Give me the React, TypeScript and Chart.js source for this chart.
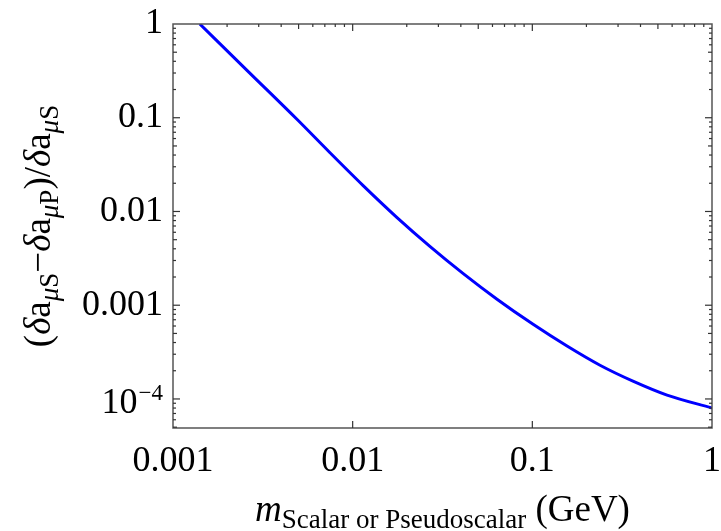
import React, { useEffect, useRef } from 'react';
import { Chart, registerables } from 'chart.js';

Chart.register(...registerables);

// ---- data ----
const massGeV = [0.00141, 0.00265, 0.00496, 0.00748, 0.0114, 0.0176, 0.0269, 0.0411, 0.0636, 0.101, 0.156, 0.238, 0.363, 0.562, 1.0];
const ratio = [1.0, 0.305, 0.0939, 0.0423, 0.019, 0.00867, 0.00425, 0.00219, 0.00116, 0.000626, 0.000367, 0.000229, 0.000155, 0.00011, 0.0000802];

const xTickValues = [0.001, 0.01, 0.1, 1];
const xTickLabels = ['0.001', '0.01', '0.1', '1'];
const yTickValues = [0.0001, 0.001, 0.01, 0.1, 1];
const yTickLabels = ['', '0.001', '0.01', '0.1', '1'];
const xMin = 0.001;
const xMax = 1;
const yMin = 4.9e-5;
const yMax = 1;

const SERIF = '"Liberation Serif", "DejaVu Serif", serif';
const TICK_FONT = 36;
const FRAME_COLOR = '#555555';

type Run = { text: string; size: number; italic?: boolean; dy?: number };

function font(r: Run) {
  return `${r.italic ? 'italic ' : ''}${r.size}px ${SERIF}`;
}

function runsWidth(ctx: CanvasRenderingContext2D, runs: Run[]) {
  let w = 0;
  for (const r of runs) {
    ctx.font = font(r);
    w += ctx.measureText(r.text).width;
  }
  return w;
}

function drawRuns(ctx: CanvasRenderingContext2D, runs: Run[], x: number, y: number) {
  let cx = x;
  for (const r of runs) {
    ctx.font = font(r);
    ctx.fillText(r.text, cx, y + (r.dy || 0));
    cx += ctx.measureText(r.text).width;
  }
}

const MAIN = 37;
const SUB = 27;
const yTitleRuns: Run[] = [
  { text: '(', size: MAIN },
  { text: 'δ', size: MAIN, italic: true },
  { text: 'a', size: MAIN },
  { text: 'μ', size: SUB, italic: true, dy: 8 },
  { text: 'S', size: SUB, dy: 8 },
  { text: '−', size: MAIN },
  { text: 'δ', size: MAIN, italic: true },
  { text: 'a', size: MAIN },
  { text: 'μ', size: SUB, italic: true, dy: 8 },
  { text: 'P', size: SUB, dy: 8 },
  { text: ')/', size: MAIN },
  { text: 'δ', size: MAIN, italic: true },
  { text: 'a', size: MAIN },
  { text: 'μ', size: SUB, italic: true, dy: 8 },
  { text: 'S', size: SUB, dy: 8 },
];
const xTitleRuns: Run[] = [
  { text: 'm', size: MAIN, italic: true },
  { text: 'Scalar or Pseudoscalar', size: SUB, dy: 7 },
  { text: ' (GeV)', size: MAIN },
];

const framePlugin = {
  id: 'frameTicks',
  afterDatasetsDraw(chart: any) {
    const { ctx, chartArea } = chart;
    const { left, right, top, bottom } = chartArea;
    const xs = chart.scales.x;
    const ys = chart.scales.y;
    ctx.save();
    ctx.strokeStyle = FRAME_COLOR;
    ctx.lineWidth = 1.5;
    ctx.strokeRect(left, top, right - left, bottom - top);

    ctx.lineWidth = 1.2;
    ctx.strokeStyle = '#333333';
    const seg = (x1: number, y1: number, x2: number, y2: number) => {
      ctx.beginPath();
      ctx.moveTo(x1, y1);
      ctx.lineTo(x2, y2);
      ctx.stroke();
    };
    // x axis ticks: majors on bottom and top; minors only on top
    for (const v of xTickValues) {
      const px = xs.getPixelForValue(v);
      if (px > left + 1 && px < right - 1) {
        seg(px, bottom, px, bottom - 7);
        seg(px, top, px, top + 7);
      }
    }
    for (let d = xMin; d < xMax * 0.99; d *= 10) {
      for (let k = 2; k <= 9; k++) {
        const px = xs.getPixelForValue(d * k);
        const len = k === 5 ? 5 : 3;
        seg(px, top, px, top + len);
      }
    }
    // y axis ticks: majors + minors on left and right
    for (const v of yTickValues) {
      const py = ys.getPixelForValue(v);
      if (py > top + 1 && py < bottom - 1) {
        seg(left, py, left + 7, py);
        seg(right, py, right - 7, py);
      }
    }
    for (let d = 1e-5; d < yMax * 0.99; d *= 10) {
      for (let k = 2; k <= 9; k++) {
        const v = d * k;
        if (v < yMin || v > yMax) continue;
        const py = ys.getPixelForValue(v);
        const len = k === 5 ? 4 : 3;
        seg(left, py, left + len, py);
        seg(right, py, right - len, py);
      }
    }
    ctx.restore();
  },
  afterDraw(chart: any) {
    const { ctx, chartArea } = chart;
    const ys = chart.scales.y;
    ctx.save();
    ctx.fillStyle = '#000000';
    ctx.textBaseline = 'alphabetic';
    ctx.textAlign = 'left';

    // 10^-4 tick label
    const py = ys.getPixelForValue(yTickValues[0]);
    const base: Run[] = [{ text: '10', size: TICK_FONT }];
    const sup: Run[] = [{ text: '−4', size: 23, dy: 0 }];
    const bw = runsWidth(ctx, base);
    const sw = runsWidth(ctx, sup);
    const rightEdge = chartArea.left - 10;
    drawRuns(ctx, base, rightEdge - sw - 1 - bw, py + 14);
    drawRuns(ctx, sup, rightEdge - sw, py + 1);

    // x axis title
    const xw = runsWidth(ctx, xTitleRuns);
    const xc = (chartArea.left + chartArea.right) / 2;
    drawRuns(ctx, xTitleRuns, xc - xw / 2, 521);

    // y axis title (rotated)
    const yw = runsWidth(ctx, yTitleRuns);
    const yc = (chartArea.top + chartArea.bottom) / 2;
    ctx.translate(50, yc);
    ctx.rotate(-Math.PI / 2);
    drawRuns(ctx, yTitleRuns, -yw / 2, 0);
    ctx.restore();
  },
};

export default function App() {
  const ref = useRef<HTMLCanvasElement | null>(null);

  useEffect(() => {
    if (!ref.current) return;
    const chart = new Chart(ref.current, {
      type: 'line',
      data: {
        datasets: [
          {
            data: massGeV.map((m, i) => ({ x: m, y: ratio[i] })),
            borderColor: '#0000ff',
            borderWidth: 3,
            pointRadius: 0,
            fill: false,
            cubicInterpolationMode: 'monotone',
          },
        ],
      },
      options: {
        animation: false,
        responsive: false,
        maintainAspectRatio: false,
        layout: { padding: { left: 0, top: 24, right: 9, bottom: 0 } },
        plugins: { legend: { display: false }, tooltip: { enabled: false }, title: { display: false } },
        scales: {
          x: {
            type: 'logarithmic',
            min: xMin,
            max: xMax,
            grid: { display: false, drawTicks: false },
            border: { display: false },
            afterBuildTicks: (s: any) => {
              s.ticks = xTickValues.map((v) => ({ value: v }));
            },
            afterFit: (s: any) => {
              s.height = 103;
              s.paddingLeft = 0;
              s.paddingRight = 0;
            },
            ticks: {
              autoSkip: false,
              maxRotation: 0,
              minRotation: 0,
              padding: 12,
              color: '#000000',
              font: { family: SERIF, size: TICK_FONT },
              callback: (_v: any, i: number) => xTickLabels[i],
            },
          },
          y: {
            type: 'logarithmic',
            min: yMin,
            max: yMax,
            grid: { display: false, drawTicks: false },
            border: { display: false },
            afterBuildTicks: (s: any) => {
              s.ticks = yTickValues.map((v) => ({ value: v }));
            },
            afterFit: (s: any) => {
              s.width = 173;
              s.paddingTop = 0;
              s.paddingBottom = 0;
            },
            ticks: {
              autoSkip: false,
              padding: 10,
              color: '#000000',
              font: { family: SERIF, size: TICK_FONT },
              callback: (_v: any, i: number) => yTickLabels[i],
            },
          },
        },
      },
      plugins: [framePlugin],
    } as any);
    return () => chart.destroy();
  }, []);

  return (
    <div style={{ position: 'absolute', left: 0, top: 0, width: 721, height: 531, background: '#ffffff' }}>
      <canvas ref={ref} width={721} height={531} />
    </div>
  );
}
